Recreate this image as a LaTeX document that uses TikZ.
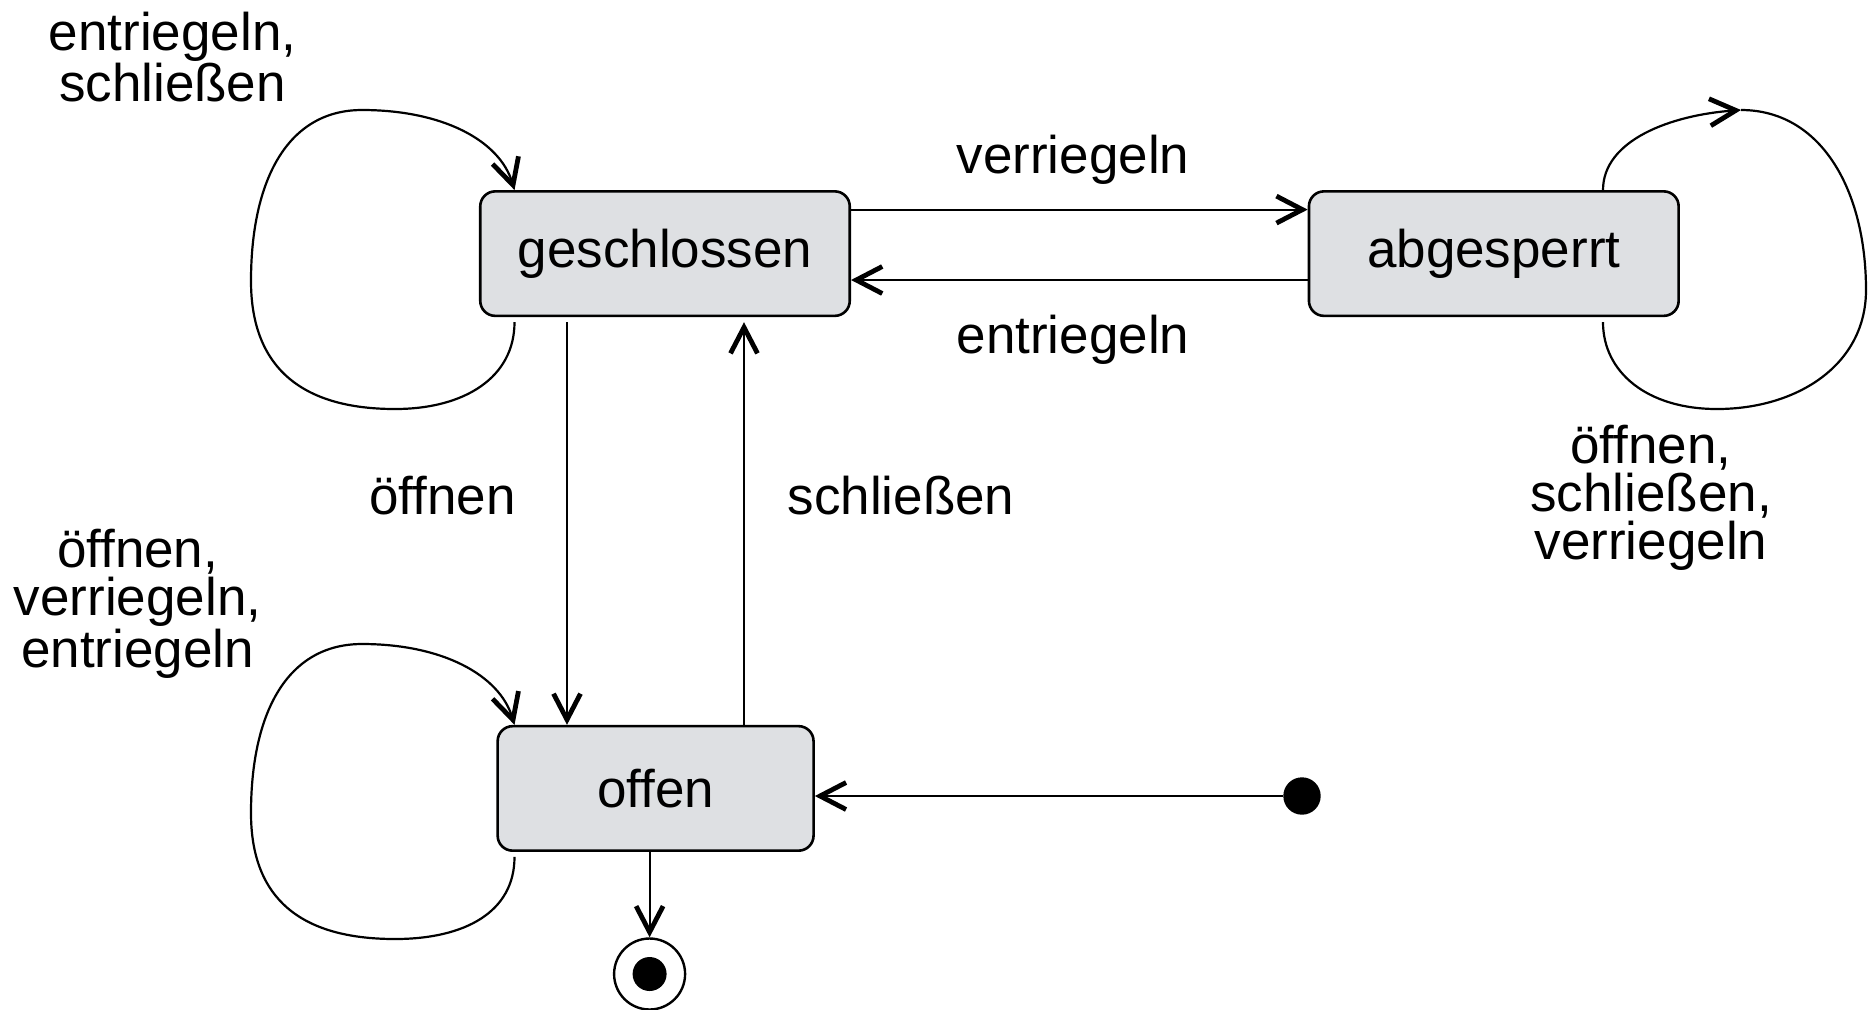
\documentclass[tikz,border=0pt]{standalone}
\usepackage{fontspec}
\setmainfont{Liberation Sans}
\usetikzlibrary{arrows.meta,calc}
\definecolor{boxfill}{RGB}{222,224,227}
\begin{document}
\begin{tikzpicture}[x=0.5pt,y=-0.5pt,
  state/.style={draw=black, line width=1.3pt, fill=boxfill, rounded corners=7.5pt, minimum height=62.25pt, inner sep=0pt, font=\fontsize{26.5pt}{24pt}\selectfont},
  lbl/.style={align=center, inner sep=0pt, font=\fontsize{26.5pt}{24pt}\selectfont},
  conn/.style={line width=1.1pt, -{Straight Barb[length=13pt,width=13.5pt,line width=2.4pt]}},
  plain/.style={line width=1.1pt}]
\useasboundingbox (0,0) rectangle (1876,1009);

% states
\node[state, minimum width=184.75pt] (g) at (665,253.6) {geschlossen};
\node[state, minimum width=184.85pt] (a) at (1493.8,253.6) {abgesperrt};
\node[state, minimum width=157.95pt] (o) at (655.6,788.4) {offen};
\node[circle, fill=black, inner sep=0pt, minimum size=18.7pt] (i) at (1302,796) {};
\node[circle, draw=black, line width=1.2pt, inner sep=0pt, minimum size=35.5pt] (f) at (649.6,974) {};
\node[circle, fill=black, inner sep=0pt, minimum size=17pt] (fi) at (f) {};

% labels
\node[lbl] (lg) at (172.5,57) {entriegeln,\\schließen};
\node[lbl] (lo) at (137.6,604) {öffnen,\\verriegeln,\\entriegeln};
\node[lbl] (la) at (1651,498) {öffnen,\\schließen,\\verriegeln};
\node[lbl] (lv) at (1073,160) {verriegeln};
\node[lbl] (le) at (1073,339.5) {entriegeln};
\node[lbl] (lof) at (442.7,496) {öffnen};
\node[lbl] (ls) at (901,496) {schließen};

% transitions between states
\draw[conn] ([yshift=22pt]g.east) -- ([yshift=22pt]a.west);
\draw[conn] ([yshift=-13.2pt]a.west) -- ([yshift=-13.2pt]g.east);
\coordinate (oe) at ([xshift=-49pt]g.south);
\draw[conn] ([yshift=-2.5pt]oe) -- (oe |- o.north);
\coordinate (sc) at ([xshift=39.5pt]g.south);
\draw[conn] (sc |- o.north) -- ([yshift=-2.5pt]sc);
\draw[conn] (i.west) -- (i -| o.east);
\draw[conn] (o.south -| f) -- (f.north);

% self loops
\coordinate (g1) at ([xshift=-75.25pt,yshift=-2.5pt]g.south);
\coordinate (g2) at ([xshift=-75.25pt]g.north);
\draw[conn] (g1) .. controls +(0,55) and +(70,0) .. (395,409)
  .. controls +(-95,0) and +(0,85) .. (251,281)
  .. controls +(0,-100) and +(-75,0) .. (362,110)
  .. controls +(80,0) and +(-15,-50) .. (g2);

\coordinate (o1) at ([xshift=-70.55pt,yshift=-2.5pt]o.south);
\coordinate (o2) at ([xshift=-70.55pt]o.north);
\draw[conn] (o1) .. controls +(0,55) and +(70,0) .. (395,939)
  .. controls +(-95,0) and +(0,85) .. (251,813)
  .. controls +(0,-100) and +(-75,0) .. (362,644)
  .. controls +(80,0) and +(-15,-50) .. (o2);

\coordinate (a1) at ([xshift=54.6pt]a.north);
\coordinate (a2) at ([xshift=54.6pt,yshift=-2.5pt]a.south);
\coordinate (at) at (1741,110);
\draw[conn] (a1) .. controls +(0,-50) and +(-70,5) .. (at);
\draw[plain] (at) .. controls +(80,0) and +(0,-100) .. (1866,290)
  .. controls +(0,75) and +(80,0) .. (1717,409)
  .. controls +(-70,0) and +(0,50) .. (a2);
\end{tikzpicture}
\end{document}
